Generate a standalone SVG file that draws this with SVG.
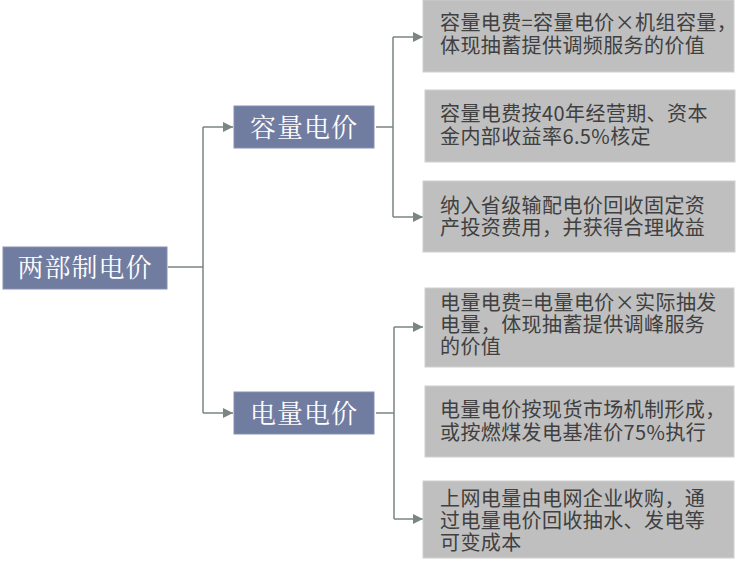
<svg xmlns="http://www.w3.org/2000/svg" width="750" height="569" viewBox="0 0 750 569">
<defs>
<marker id="arr" viewBox="0 0 10 10" refX="10" refY="5" markerWidth="11" markerHeight="10" markerUnits="userSpaceOnUse" orient="auto">
<path d="M0,0 L10,5 L0,10 Z" fill="#7b8584"/>
</marker>
<style>
.main rect{fill:#717ca1;stroke:#8790b2;stroke-width:1}
.main text{fill:#ffffff;font-family:"Noto Serif CJK SC","Noto Sans CJK SC",serif;font-size:26px;letter-spacing:1px;text-anchor:middle}
.leaf rect{fill:#bfbfbf;stroke:#d0d0d0;stroke-width:1}
.leaf text{fill:#404040;font-family:"Noto Sans CJK SC","Liberation Sans",sans-serif;font-size:20px;letter-spacing:0.4px}
.conn path{fill:none;stroke:#7b8584;stroke-width:1.5}
</style>
</defs>
<rect width="750" height="569" fill="#ffffff"/>
<g class="conn">
<path d="M168,267 H203 M203,127 V413"/>
<path d="M203,127 H233" marker-end="url(#arr)"/>
<path d="M203,413 H233" marker-end="url(#arr)"/>
<path d="M376,127 H393 M393,37 V217"/>
<path d="M393,37 H423" marker-end="url(#arr)"/>
<path d="M393,217 H423" marker-end="url(#arr)"/>
<path d="M376,413 H394 M394,327 V519"/>
<path d="M394,327 H423" marker-end="url(#arr)"/>
<path d="M394,519 H423" marker-end="url(#arr)"/>
</g>
<g id="root" class="main">
<rect x="3" y="247" width="164" height="42"/>
<text x="85" y="277">两部制电价</text>
</g>
<g id="capacity" class="main">
<rect x="234" y="106" width="140" height="42"/>
<text x="304" y="137">容量电价</text>
</g>
<g id="energy" class="main">
<rect x="234" y="392" width="140" height="42"/>
<text x="304" y="423">电量电价</text>
</g>
<g id="cap1" class="leaf">
<rect x="423" y="0" width="311" height="72"/>
<text x="440" y="30">容量电费=容量电价×机组容量，</text>
<text x="440" y="53">体现抽蓄提供调频服务的价值</text>
</g>
<g id="cap2" class="leaf">
<rect x="425" y="90" width="310" height="72"/>
<text x="440" y="121">容量电费按40年经营期、资本</text>
<text x="440" y="144">金内部收益率6.5%核定</text>
</g>
<g id="cap3" class="leaf">
<rect x="423" y="181" width="312" height="71"/>
<text x="440" y="213">纳入省级输配电价回收固定资</text>
<text x="440" y="235">产投资费用，并获得合理收益</text>
</g>
<g id="en1" class="leaf">
<rect x="425" y="288" width="309" height="79"/>
<text x="440" y="310">电量电费=电量电价×实际抽发</text>
<text x="440" y="332">电量，体现抽蓄提供调峰服务</text>
<text x="440" y="354">的价值</text>
</g>
<g id="en2" class="leaf">
<rect x="425" y="386" width="309" height="71"/>
<text x="440" y="417">电量电价按现货市场机制形成，</text>
<text x="440" y="440">或按燃煤发电基准价75%执行</text>
</g>
<g id="en3" class="leaf">
<rect x="423" y="481" width="311" height="77"/>
<text x="440" y="506">上网电量由电网企业收购，通</text>
<text x="440" y="528">过电量电价回收抽水、发电等</text>
<text x="440" y="550">可变成本</text>
</g>
</svg>
